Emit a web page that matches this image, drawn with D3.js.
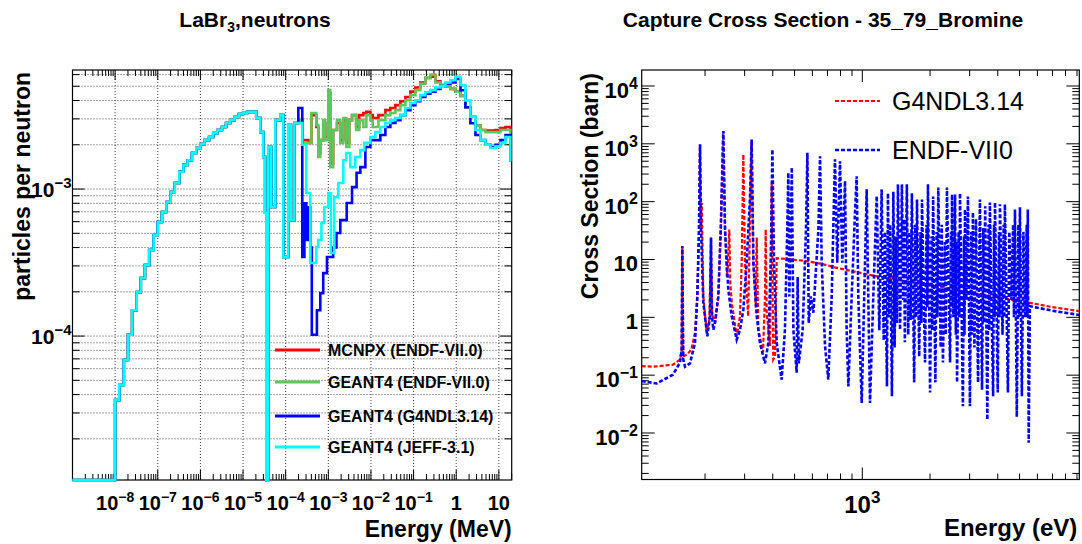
<!DOCTYPE html>
<html><head><meta charset="utf-8">
<script src="https://cdn.jsdelivr.net/npm/d3@7"></script>
<style>body{margin:0;background:#fff}svg text{font-family:"Liberation Sans",Arial,Helvetica,sans-serif;fill:#000}</style>
</head><body><svg id="c" width="1082" height="544"></svg>
<script>
// ---------------- LEFT PANEL DATA (energy MeV, particles per neutron) ----------------
const lowEnergyBins = [
 [1e-9,0],[1e-8,3.67e-5],[1.25e-8,4.65e-5],[1.6e-8,6.87e-5],[2e-8,1.02e-4],[2.5e-8,1.50e-4],[3.2e-8,1.99e-4],
 [4e-8,2.48e-4],[5e-8,3.04e-4],[6.3e-8,3.85e-4],[8e-8,4.87e-4],[1e-7,5.97e-4],[1.25e-7,6.98e-4],[1.6e-7,8.16e-4],
 [2e-7,9.54e-4],[2.5e-7,1.10e-3],[3.2e-7,1.31e-3],[4e-7,1.46e-3],[5e-7,1.57e-3],[6.3e-7,1.76e-3],[8e-7,1.90e-3],
 [1e-6,2.02e-3],[1.25e-6,2.15e-3],[1.6e-6,2.26e-3],[2e-6,2.40e-3],[2.5e-6,2.52e-3],[3.2e-6,2.64e-3],[4e-6,2.81e-3],
 [5e-6,2.94e-3],[6.3e-6,3.09e-3],[8e-6,3.24e-3],[1e-5,3.29e-3],[1.25e-5,3.35e-3]
];
const resonanceStart = [
 [1.6e-5,3.35e-3],[2.04e-5,3.04e-3],[2.54e-5,2.44e-3],[2.98e-5,1.65e-3],[3.3e-5,6.9e-4],[3.51e-5,0],
 [3.91e-5,1.93e-3],[4.59e-5,7.55e-4],[5.7e-5,2.94e-3],[7.5e-5,3.18e-3],[8.8e-5,3.45e-4],[1.15e-4,2.72e-3],
 [1.33e-4,6.15e-4],[1.6e-4,2.81e-3]
];
const mcnpxBins = [
 [2.2e-4,2.94e-3],[2.45e-4,2.15e-3],[3.4e-4,2.06e-3],[4.0e-4,3.18e-3],[5.23e-4,2.64e-3],[5.82e-4,1.76e-3],
 [6.49e-4,2.15e-3],[7.6e-4,2.81e-3],[8.5e-4,2.26e-3],[1.0e-3,4.5e-3],[1.11e-3,1.5e-3],[1.3e-3,2.52e-3],
 [1.6e-3,2.81e-3],[1.91e-3,2.15e-3],[2.25e-3,2.94e-3],[2.65e-3,2.06e-3],[3.1e-3,2.94e-3],[3.6e-3,3.18e-3],
 [4.5e-3,2.64e-3],[5.3e-3,3.18e-3],[6.63e-3,3.29e-3],[7.8e-3,3.35e-3],[9.68e-3,3.18e-3],[1.1e-2,3.04e-3],
 [1.5e-2,3.18e-3],[2.18e-2,3.44e-3],[2.85e-2,3.56e-3],[3.74e-2,3.72e-3],[4.9e-2,3.95e-3],[6.42e-2,4.23e-3],
 [8.41e-2,4.6e-3],[0.110,4.9e-3],[0.144,5.3e-3],[0.189,5.7e-3],[0.248,5.8e-3],[0.325,5.4e-3],[0.426,5.1e-3],
 [0.558,5.0e-3],[0.731,4.8e-3],[0.958,4.6e-3],[1.26,4.3e-3],[1.64,3.6e-3],[2.15,3.1e-3],[2.82,2.7e-3],
 [3.7,2.52e-3],[4.85,2.5e-3],[6.35,2.5e-3],[8.32,2.52e-3],[10.9,2.6e-3],[14.3,2.64e-3],[18.7,2.5e-3]
];
const geantEndfBins = [
 [2.2e-4,2.94e-3],[2.45e-4,2.06e-3],[3.4e-4,2.06e-3],[4.0e-4,3.29e-3],[5.23e-4,2.72e-3],[5.82e-4,1.65e-3],
 [6.49e-4,2.15e-3],[7.6e-4,2.94e-3],[8.5e-4,2.15e-3],[1.0e-3,4.71e-3],[1.11e-3,1.41e-3],[1.3e-3,2.52e-3],
 [1.6e-3,2.94e-3],[1.91e-3,2.06e-3],[2.25e-3,3.04e-3],[2.65e-3,1.93e-3],[3.1e-3,2.94e-3],[3.6e-3,3.18e-3],
 [4.5e-3,2.52e-3],[5.3e-3,2.94e-3],[6.63e-3,2.64e-3],[7.8e-3,3.18e-3],[9.68e-3,2.94e-3],[1.1e-2,2.64e-3],
 [1.5e-2,2.94e-3],[2.18e-2,3.18e-3],[2.85e-2,3.29e-3],[3.74e-2,3.44e-3],[4.9e-2,3.72e-3],[6.42e-2,4.02e-3],
 [8.41e-2,4.35e-3],[0.110,4.71e-3],[0.144,5.2e-3],[0.189,5.7e-3],[0.248,6.0e-3],[0.325,5.3e-3],[0.426,5.1e-3],
 [0.558,5.0e-3],[0.731,4.8e-3],[0.958,4.6e-3],[1.26,4.3e-3],[1.64,3.6e-3],[2.15,3.1e-3],[2.82,2.7e-3],
 [3.7,2.52e-3],[4.85,2.44e-3],[6.35,2.44e-3],[8.32,2.44e-3],[10.9,2.52e-3],[14.3,2.52e-3],[18.7,2.44e-3]
];
const geantG4ndlBins = [
 [1.98e-4,3.56e-3],[2.45e-4,3.45e-4],[2.75e-4,8.0e-4],[3.05e-4,4.5e-4],[3.4e-4,7.5e-4],[3.78e-4,4.0e-4],
 [4.1e-4,1.02e-4],[5.4e-4,1.5e-4],[6.49e-4,1.96e-4],[7.6e-4,2.68e-4],[9.3e-4,3.45e-4],[1.3e-3,4.0e-4],
 [1.55e-3,5.02e-4],[1.91e-3,6.15e-4],[2.7e-3,8.03e-4],[3.6e-3,1.03e-3],[4.6e-3,1.29e-3],[5.64e-3,1.41e-3],
 [7.4e-3,1.93e-3],[9.68e-3,2.15e-3],[1.66e-2,2.33e-3],[2.18e-2,2.64e-3],[2.85e-2,2.81e-3],[3.74e-2,2.94e-3],
 [4.9e-2,3.18e-3],[6.42e-2,3.44e-3],[8.41e-2,3.72e-3],[0.110,3.95e-3],[0.144,4.23e-3],[0.189,4.45e-3],
 [0.248,4.6e-3],[0.325,4.8e-3],[0.426,5.02e-3],[0.558,5.2e-3],[0.731,5.3e-3],[0.958,5.6e-3],[1.26,4.7e-3],
 [1.64,3.6e-3],[2.15,2.8e-3],[2.82,2.33e-3],[3.7,2.15e-3],[4.85,2.0e-3],[6.35,1.93e-3],[8.32,2.0e-3],
 [10.9,2.15e-3],[14.3,2.33e-3],[18.7,1.57e-3]
];
const geantJeffBins = [
 [2.45e-4,2.0e-3],[3.05e-4,9.4e-4],[3.78e-4,3.14e-4],[5.23e-4,4.03e-4],[5.82e-4,4.5e-4],[6.9e-4,5.87e-4],
 [8.05e-4,7.55e-4],[1.0e-3,9.4e-4],[1.15e-3,3.67e-4],[1.38e-3,8.8e-4],[1.72e-3,1.1e-3],[2.25e-3,1.57e-3],
 [2.65e-3,1.76e-3],[3.28e-3,1.41e-3],[4.3e-3,1.65e-3],[5.64e-3,1.84e-3],[7.0e-3,2.06e-3],[9.68e-3,2.26e-3],
 [1.27e-2,2.44e-3],[1.66e-2,2.64e-3],[2.18e-2,2.81e-3],[2.85e-2,2.94e-3],[3.74e-2,3.04e-3],[4.9e-2,3.18e-3],
 [6.42e-2,3.56e-3],[8.41e-2,3.85e-3],[0.110,4.02e-3],[0.144,4.35e-3],[0.189,4.57e-3],[0.248,4.71e-3],
 [0.325,4.9e-3],[0.426,5.02e-3],[0.558,5.3e-3],[0.731,5.5e-3],[0.958,5.8e-3],[1.26,5.1e-3],[1.64,4.0e-3],
 [2.15,3.1e-3],[2.82,2.52e-3],[3.7,2.15e-3],[4.85,2.0e-3],[6.35,1.9e-3],[8.32,1.95e-3],[10.9,2.06e-3],
 [14.3,2.26e-3],[18.7,1.57e-3]
];
const histEnd = 20;
const leftSeriesNames = ["MCNPX (ENDF-VII.0)","GEANT4 (ENDF-VII.0)","GEANT4 (G4NDL3.14)","GEANT4 (JEFF-3.1)"];
const leftSeriesColors = ["#ff0000","#5dc85a","#0000ff","#00ffff"];
const leftXTickExps = [-8,-7,-6,-5,-4,-3,-2,-1,0,1];
const leftYTickExps = [-4,-3];

// ---------------- RIGHT PANEL DATA (energy eV, cross section barn) ----------------
const g4ndlPoints = [
 [104.6,0.143],[118,0.14],[144,0.152],[155,0.186],[157.5,0.28],[158.5,17],[160,0.21],[167,0.23],[174,0.28],
 [180.4,0.54],[184.8,2.3],[188,30],[190,950],[191.5,30],[193.5,96],[196.5,2.3],[203.5,0.54],[209,0.92],
 [212.6,24],[215,1.1],[221.5,0.8],[229,2.3],[235,33],[241,1660],[245.4,33],[250,5],[253,8],[256.4,33],
 [259,4],[263,1.8],[276.5,0.47],[286,1.05],[291,8.8],[296,656],[301,8.8],[311,1.05],[317,50],[322.3,1100],
 [328,8.8],[336,1.5],[339.5,24],[345,0.61],[362,0.25],[369.4,2.3],[372,33],[376,1.2],[389,0.32],[395.7,200],
 [402,0.186],[409.5,0.21],[416.5,10.5],[450,10.3],[550,9.5],[650,8.5],[756,7.3],[900,6.3],[1159,5.1],
 [1500,4.3],[1935,3.7],[2500,3.1],[3009,2.65],[4000,2.2],[5470,1.8],[7000,1.5],[9214,1.28]
];
const endfPoints = [
 [104.6,0.079],[122,0.072],[144,0.102],[154.8,0.165],[157.5,0.28],[158.5,17],[160,0.19],[163,0.14],[171.5,0.16],
 [180.4,0.36],[184.8,2.3],[188,33],[190,980],[192,33],[196.5,1.8],[204.7,0.47],[210.4,1.05],[212.6,24],
 [214.8,1.05],[217.7,0.61],[221.5,0.8],[229.1,2.3],[234.9,33],[241.1,1660],[245.4,33],[253.8,3.0],[262.8,1.05],
 [276.5,0.41],[286.1,0.61],[296,1.36],[306.3,8.8],[317,125],[322.3,1190],[328,8.8],[339.5,1.05],[351,0.36],
 [369.4,0.16],[382.2,0.36],[391.7,8.8],[398.4,800],[405.1,8.8],[416.5,0.36],[438,0.084],[453,0.6],[464,33],
 [469,316],[474,2.3],[481,33],[486,390],[494,0.6],[511,0.11],[516,5],[522,0.16],[543,0.6],[562,33],[570,700],
 [578,0.8],[590,2.3],[606,1.2],[627,11],[638,33],[649,610],[660,8.8],[683,0.32],[706,0.084],[731,2.3],
 [756,540],[774,8.8],[796,500],[815,8.8],[838,227],[852,0.6],[867,0.064],[897,2.3],[928,64],[944,275],
 [960,2.3],[994,0.033],[1028,8.8],[1046,163],[1063,2.3],[1082,0.033],[1119,2.3],[1159,125],[1190,0.6],
 [1219,163],[1245,0.4],[1262,30],[1287,0.064],[1300,140],[1318,1],[1330,40],[1354,0.043],[1374,148],
 [1392,0.3],[1410,25],[1425,0.8],[1440,199],[1472,0.61],[1500,199],[1520,2],[1532,50],[1546,0.37],[1578,199],
 [1600,0.5],[1620,30],[1640,0.9],[1661,140],[1700,0.075],[1720,40],[1735,1],[1750,109],[1790,0.21],[1815,30],
 [1830,0.8],[1842,109],[1900,0.165],[1930,40],[1945,1.5],[1958,199],[2001,0.05],[2030,25],[2045,0.6],
 [2064,123],[2112,0.075],[2140,30],[2155,1],[2176,176],[2230,0.3],[2255,40],[2282,0.165],[2330,20],[2350,0.5],
 [2378,176],[2455,0.165],[2480,30],[2490,1.5],[2505,133],[2540,1],[2584,133],[2605,0.5],[2620,20],[2637,0.075],
 [2680,30],[2700,1],[2718,140],[2800,0.029],[2830,25],[2845,0.5],[2860,73],[2900,2],[2948,123],[3009,0.029],
 [3050,30],[3070,0.5],[3102,65],[3150,0.3],[3200,50],[3269,0.075],[3333,109],[3405,0.056],[3450,35],[3480,0.8],
 [3517,83],[3595,0.017],[3640,40],[3665,0.6],[3690,97],[3814,0.043],[3850,40],[3870,1],[3888,97],[4000,0.05],
 [4050,30],[4070,1],[4090,90],[4200,0.5],[4250,40],[4275,1],[4303,90],[4438,0.05],[4500,30],[4600,2],
 [4680,40],[4720,1],[4770,73],[4860,0.019],[4940,40],[4980,1],[5018,80],[5120,0.043],[5200,30],[5300,1],
 [5380,40],[5410,1],[5440,73],[5490,0.0068],[5556,1.56],[7000,1.3],[9214,1.1]
];
const rightSeriesNames = ["G4NDL3.14","ENDF-VII0"];
const rightSeriesColors = ["#ff0000","#0000ff"];
const rightXTickExps = [3];
const rightYTickExps = [-2,-1,0,1,2,3,4];

// ---------------- DRAWING ----------------
const svg = d3.select("#c");
const FONT_W = "bold";

function logTicks(dom){
  const lo=Math.floor(Math.log10(dom[0])), hi=Math.ceil(Math.log10(dom[1]));
  const major=[], minor=[];
  for(let e=lo;e<=hi;e++) for(let m=1;m<10;m++){
    const v=+(m+"e"+e);
    if(v<dom[0]*0.99999||v>dom[1]*1.00001) continue;
    (m===1?major:minor).push(v);
  }
  return {major,minor};
}
function powLabel(g,x,y,exp,anchor,size,sup){
  const t=g.append("text").attr("x",x).attr("y",y).attr("text-anchor",anchor)
    .attr("font-size",size).attr("font-weight",FONT_W);
  if(exp===0) t.text("1");
  else if(exp===1) t.text("10");
  else{
    t.append("tspan").text("10");
    t.append("tspan").attr("dy",-size*0.42).attr("font-size",sup)
      .text(exp<0?"\u2212"+(-exp):String(exp));
  }
}

// ===== LEFT PANEL =====
const L={x0:72.5,x1:511.7,y0:70,y1:480};
const xL=d3.scaleLog().domain([1e-9,20]).range([L.x0,L.x1]);
const yL=d3.scaleLog().domain([1.05e-5,6.45e-3]).range([L.y1,L.y0]).clamp(true);
const gL=svg.append("g");
const ltX=logTicks(xL.domain()), ltY=logTicks(yL.domain());
gL.selectAll(".gx").data(ltX.major).join("line")
  .attr("x1",d=>xL(d)).attr("x2",d=>xL(d)).attr("y1",L.y0).attr("y2",L.y1)
  .attr("stroke","#444").attr("stroke-width",1).attr("stroke-dasharray","1,2");
gL.selectAll(".gy").data(ltY.major.concat(ltY.minor)).join("line")
  .attr("y1",d=>yL(d)).attr("y2",d=>yL(d)).attr("x1",L.x0).attr("x2",L.x1)
  .attr("stroke","#444").attr("stroke-width",1).attr("stroke-dasharray","1,2");
function ticksX(g,sc,F,tk,maj,min){
  tk.major.forEach(v=>{const x=sc(v);
    g.append("line").attr("x1",x).attr("x2",x).attr("y1",F.y1).attr("y2",F.y1-maj).attr("stroke","#000");
    g.append("line").attr("x1",x).attr("x2",x).attr("y1",F.y0).attr("y2",F.y0+maj).attr("stroke","#000");});
  tk.minor.forEach(v=>{const x=sc(v);
    g.append("line").attr("x1",x).attr("x2",x).attr("y1",F.y1).attr("y2",F.y1-min).attr("stroke","#000");
    g.append("line").attr("x1",x).attr("x2",x).attr("y1",F.y0).attr("y2",F.y0+min).attr("stroke","#000");});
}
function ticksY(g,sc,F,tk,maj,min){
  tk.major.forEach(v=>{const y=sc(v);
    g.append("line").attr("y1",y).attr("y2",y).attr("x1",F.x0).attr("x2",F.x0+maj).attr("stroke","#000");
    g.append("line").attr("y1",y).attr("y2",y).attr("x1",F.x1).attr("x2",F.x1-maj).attr("stroke","#000");});
  tk.minor.forEach(v=>{const y=sc(v);
    g.append("line").attr("y1",y).attr("y2",y).attr("x1",F.x0).attr("x2",F.x0+min).attr("stroke","#000");
    g.append("line").attr("y1",y).attr("y2",y).attr("x1",F.x1).attr("x2",F.x1-min).attr("stroke","#000");});
}
ticksX(gL,xL,L,ltX,10,6);
ticksY(gL,yL,L,ltY,12,7);
gL.append("rect").attr("x",L.x0).attr("y",L.y0).attr("width",L.x1-L.x0).attr("height",L.y1-L.y0)
  .attr("fill","none").attr("stroke","#000").attr("stroke-width",1.2);

svg.append("clipPath").attr("id","clipL").append("rect")
  .attr("x",L.x0-2).attr("y",L.y0).attr("width",L.x1-L.x0+2).attr("height",L.y1-L.y0+3);
const leftUpper=[
  resonanceStart.concat(mcnpxBins),
  resonanceStart.concat(geantEndfBins),
  resonanceStart.concat(geantG4ndlBins),
  resonanceStart.concat(geantJeffBins)
];
const yv=v=>v>0?yL(v):L.y1;
const histLine=d3.line().x(d=>xL(d[0])).y(d=>yv(d[1])).curve(d3.curveStepAfter);
leftUpper.forEach((up,i)=>{
  const bins=lowEnergyBins.concat(up);
  const pts=bins.concat([[histEnd,bins[bins.length-1][1]]]);
  gL.append("path").attr("d",histLine(pts)).attr("fill","none")
    .attr("stroke",leftSeriesColors[i]).attr("stroke-width",2.6).attr("clip-path","url(#clipL)");
});
leftXTickExps.forEach(e=>powLabel(gL,xL(Math.pow(10,e)),510,e,"middle",20,14));
leftYTickExps.forEach(e=>powLabel(gL,L.x0-1,yL(Math.pow(10,e))+8,e,"end",21,15));
gL.append("text").attr("x",L.x1).attr("y",537).attr("text-anchor","end").attr("font-size",23)
  .attr("font-weight","bold").text("Energy (MeV)");
gL.append("text").attr("transform","translate(30,72) rotate(-90)").attr("text-anchor","end")
  .attr("font-size",23).attr("font-weight","bold").text("particles per neutron");
const tl=gL.append("text").attr("x",255).attr("y",27).attr("text-anchor","middle").attr("font-size",21).attr("font-weight","bold");
tl.append("tspan").text("LaBr");
tl.append("tspan").attr("dy",5).attr("font-size",14).text("3");
tl.append("tspan").attr("dy",-5).text(",neutrons");
const legY=[350,382,416,447];
leftSeriesNames.forEach((n,i)=>{
  gL.append("line").attr("x1",275).attr("x2",320).attr("y1",legY[i]).attr("y2",legY[i])
    .attr("stroke",leftSeriesColors[i]).attr("stroke-width",3);
  gL.append("text").attr("x",328).attr("y",legY[i]+6).attr("font-size",16).attr("font-weight","bold").text(n);
});

// ===== RIGHT PANEL =====
const R={x0:641.7,x1:1079.3,y0:70,y1:479.5};
const xR=d3.scaleLog().domain([104.6,9214]).range([R.x0,R.x1]);
const yR=d3.scaleLog().domain([1.57e-3,1.89e4]).range([R.y1,R.y0]);
const gR=svg.append("g");
const rtX=logTicks(xR.domain()), rtY=logTicks(yR.domain());
ticksX(gR,xR,R,rtX,12,6);
ticksY(gR,yR,R,rtY,13,7);
gR.append("rect").attr("x",R.x0).attr("y",R.y0).attr("width",R.x1-R.x0).attr("height",R.y1-R.y0)
  .attr("fill","none").attr("stroke","#000").attr("stroke-width",1.2);
svg.append("clipPath").attr("id","clipR").append("rect")
  .attr("x",R.x0).attr("y",R.y0).attr("width",R.x1-R.x0).attr("height",R.y1-R.y0);
const xsLine=d3.line().x(d=>xR(d[0])).y(d=>yR(d[1]));
[g4ndlPoints,endfPoints].forEach((pts,i)=>{
  gR.append("path").attr("d",xsLine(pts)).attr("fill","none").attr("stroke",rightSeriesColors[i])
    .attr("stroke-width",i===0?2.2:2.6).attr("stroke-dasharray","4,2").attr("clip-path","url(#clipR)");
});
rightXTickExps.forEach(e=>powLabel(gR,xR(Math.pow(10,e)),513,e,"middle",24,17));
rightYTickExps.forEach(e=>powLabel(gR,638,yR(Math.pow(10,e))+12,e,"end",22,16));
gR.append("text").attr("x",R.x1-2).attr("y",536).attr("text-anchor","end").attr("font-size",24)
  .attr("font-weight","bold").text("Energy (eV)");
gR.append("text").attr("transform","translate(598,73) rotate(-90)").attr("text-anchor","end")
  .attr("font-size",23).attr("font-weight","bold").text("Cross Section (barn)");
gR.append("text").attr("x",823).attr("y",27).attr("text-anchor","middle").attr("font-size",21)
  .attr("font-weight","bold").text("Capture Cross Section - 35_79_Bromine");
const rLegY=[101,150];
rightSeriesNames.forEach((n,i)=>{
  gR.append("line").attr("x1",835).attr("x2",880).attr("y1",rLegY[i]).attr("y2",rLegY[i])
    .attr("stroke",rightSeriesColors[i]).attr("stroke-width",i===0?2.2:2.6).attr("stroke-dasharray","4,2");
  gR.append("text").attr("x",892).attr("y",rLegY[i]+9).attr("font-size",25).text(n);
});
</script></body></html>
